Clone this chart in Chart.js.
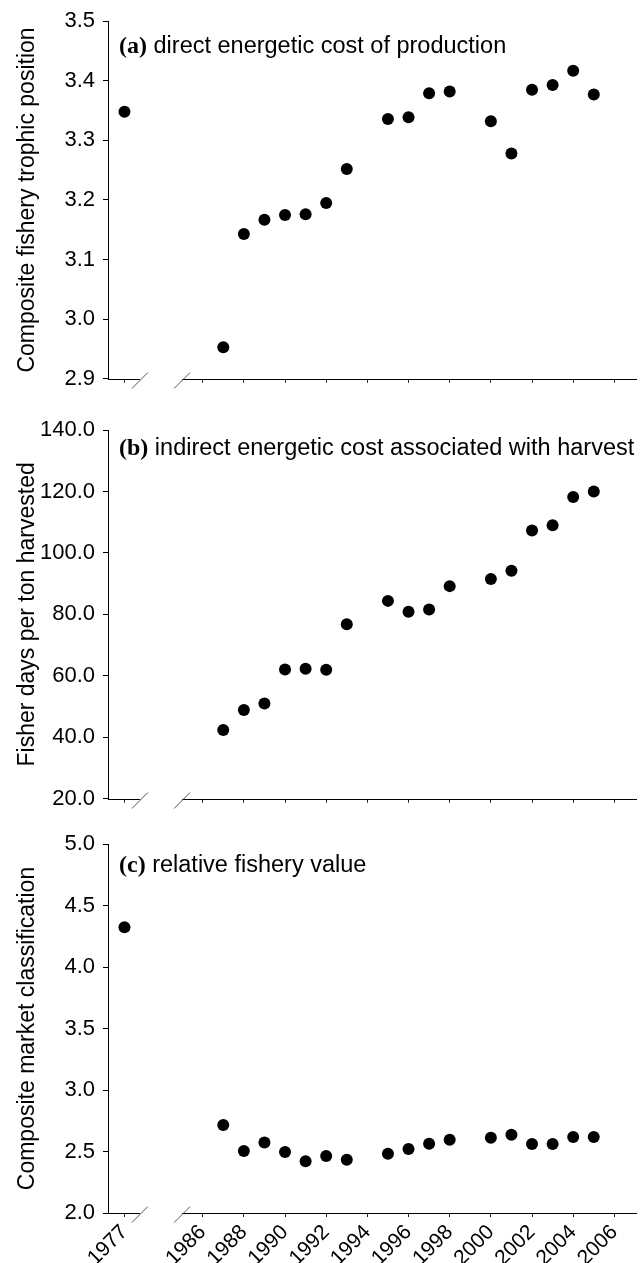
<!DOCTYPE html>
<html>
<head>
<meta charset="utf-8">
<script src="https://cdn.jsdelivr.net/npm/chart.js@4.4.1/dist/chart.umd.min.js"></script>
<style>
  body { margin: 0; background: #fff; }
  canvas { position: absolute; left: 0; }
</style>
</head>
<body>
<canvas id="chartA" width="643" height="400" style="top:0"></canvas>
<canvas id="chartB" width="643" height="420" style="top:400px"></canvas>
<canvas id="chartC" width="643" height="443" style="top:820px"></canvas>
<script>
// survey years (1994 and 1999 missing)
const years = [1977, 1987, 1988, 1989, 1990, 1991, 1992, 1993, 1995, 1996, 1997, 1998, 2000, 2001, 2002, 2003, 2004, 2005];
const trophicPos = [3.348, 2.953, 3.143, 3.167, 3.175, 3.176, 3.195, 3.252, 3.336, 3.339, 3.379, 3.382, 3.332, 3.278, 3.385, 3.393, 3.417, 3.377];
const fisherDays = [null, 42.4, 48.9, 51.0, 62.1, 62.3, 62.0, 76.8, 84.4, 80.9, 81.6, 89.2, 91.5, 94.2, 107.3, 109.0, 118.2, 120.0];
const marketClass = [4.323, 2.715, 2.504, 2.574, 2.496, 2.420, 2.463, 2.433, 2.482, 2.520, 2.563, 2.596, 2.612, 2.637, 2.561, 2.561, 2.618, 2.618];
const xTickYears = [1977, 1986, 1988, 1990, 1992, 1994, 1996, 1998, 2000, 2002, 2004, 2006];

const SANS = '"Liberation Sans", Arial, sans-serif';
const SERIF = '"Liberation Serif", "Times New Roman", serif';

// broken axis: years before the break are pulled to the right
const breakShift = 5.2;
const breakMarks = [1982.95, 1985.0];
function axisPos(yr) { return yr < 1986 ? yr + breakShift : yr; }

const brokenAxis = {
  id: 'brokenAxis',
  afterDraw(chart) {
    const ctx = chart.ctx;
    const xs = chart.scales.x;
    const a = chart.chartArea;
    const y = Math.round(a.bottom) + 0.5;
    const b1 = xs.getPixelForValue(breakMarks[0]);
    const b2 = xs.getPixelForValue(breakMarks[1]);
    ctx.save();
    ctx.strokeStyle = '#000';
    ctx.lineWidth = 1;
    ctx.beginPath();
    ctx.moveTo(a.left, y); ctx.lineTo(b1, y);
    ctx.moveTo(b2, y); ctx.lineTo(a.right, y);
    ctx.stroke();
    ctx.strokeStyle = '#555';
    ctx.beginPath();
    [b1, b2].forEach(bx => {
      ctx.moveTo(bx - 8, y + 9);
      ctx.lineTo(bx + 8, y - 7);
    });
    ctx.stroke();
    ctx.restore();
  }
};

const panelTitle = {
  id: 'panelTitle',
  afterDraw(chart, args, opts) {
    const ctx = chart.ctx;
    const a = chart.chartArea;
    const x = a.left + 11;
    const y = a.top + opts.offset;
    ctx.save();
    ctx.fillStyle = '#000';
    ctx.textBaseline = 'alphabetic';
    ctx.font = 'bold 24px ' + SERIF;
    ctx.fillText(opts.tag, x, y);
    const w = ctx.measureText(opts.tag).width;
    ctx.font = '23.5px ' + SANS;
    ctx.fillText(' ' + opts.text, x + w, y);
    ctx.restore();
  }
};

function makeChart(id, values, cfg) {
  const pts = [];
  years.forEach((yr, i) => {
    if (values[i] != null) pts.push({ x: axisPos(yr), y: values[i] });
  });
  return new Chart(document.getElementById(id), {
    type: 'scatter',
    data: {
      datasets: [{
        data: pts,
        pointRadius: 6,
        pointHoverRadius: 6,
        backgroundColor: '#000',
        borderWidth: 0
      }]
    },
    options: {
      responsive: false,
      animation: false,
      layout: { padding: { top: cfg.padTop, right: 4, left: 0, bottom: 0 } },
      plugins: {
        legend: { display: false },
        tooltip: { enabled: false },
        panelTitle: { tag: cfg.tag, text: cfg.text, offset: cfg.titleOffset }
      },
      scales: {
        x: {
          type: 'linear',
          min: 1981.4,
          max: 2007.1,
          afterBuildTicks: s => { s.ticks = xTickYears.map(yr => ({ value: axisPos(yr) })); },
          afterFit: s => { s.height = cfg.xHeight; },
          border: { display: false },
          grid: { drawOnChartArea: false, tickLength: 4, color: '#222' },
          ticks: {
            display: cfg.xLabels,
            autoSkip: false,
            maxRotation: 45,
            minRotation: 45,
            padding: 3,
            color: '#000',
            font: { family: SANS, size: 21 },
            callback: (v, i) => String(xTickYears[i])
          }
        },
        y: {
          min: cfg.min,
          max: cfg.max,
          afterFit: s => { s.width = 108; },
          border: { color: '#000' },
          grid: { drawOnChartArea: false, tickLength: 5, color: '#000' },
          ticks: {
            stepSize: cfg.step,
            padding: 8,
            color: '#000',
            font: { family: SANS, size: 22 },
            callback: v => Number(v).toFixed(1)
          },
          title: {
            display: true,
            text: cfg.yTitle,
            color: '#000',
            font: { family: SANS, size: 23 },
            padding: { top: 14, bottom: 0 }
          }
        }
      }
    },
    plugins: [brokenAxis, panelTitle]
  });
}

makeChart('chartA', trophicPos, {
  min: 2.9, max: 3.5, step: 0.1, padTop: 19, xHeight: 12, xLabels: false,
  yTitle: 'Composite fishery trophic position',
  tag: '(a)', text: 'direct energetic cost of production', titleOffset: 32
});
makeChart('chartB', fisherDays, {
  min: 20, max: 140, step: 20, padTop: 30, xHeight: 20, xLabels: false,
  yTitle: 'Fisher days per ton harvested',
  tag: '(b)', text: 'indirect energetic cost associated with harvest', titleOffset: 25
});
makeChart('chartC', marketClass, {
  min: 2.0, max: 5.0, step: 0.5, padTop: 24, xHeight: 50, xLabels: true,
  yTitle: 'Composite market classification',
  tag: '(c)', text: 'relative fishery value', titleOffset: 28
});
</script>
</body>
</html>
